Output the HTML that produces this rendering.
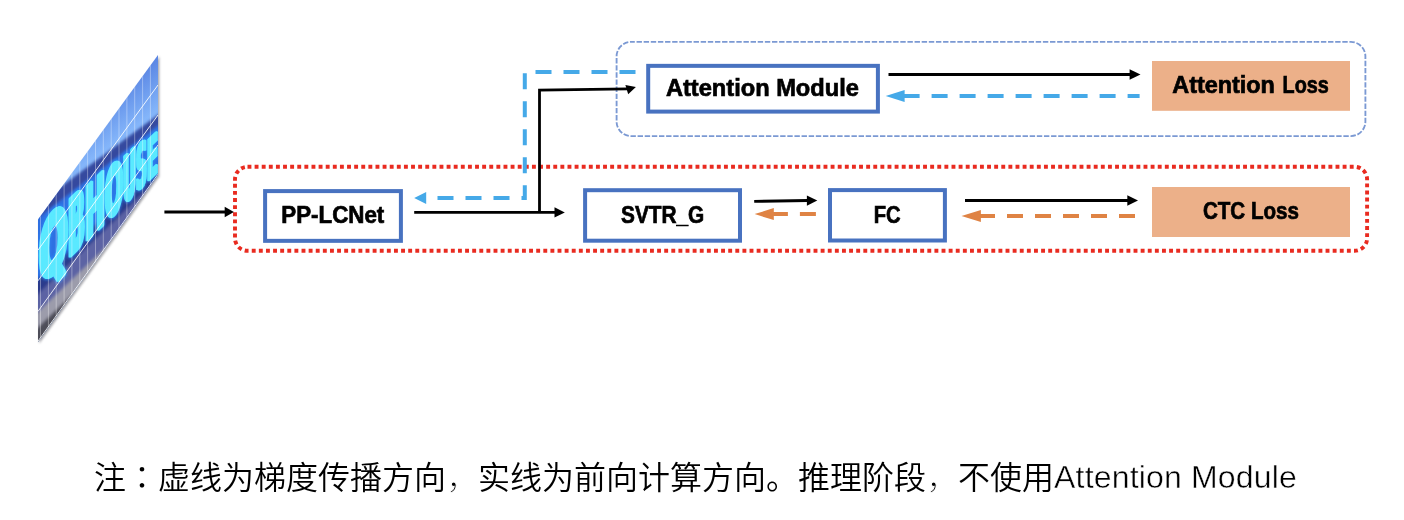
<!DOCTYPE html>
<html lang="zh-CN">
<head>
<meta charset="utf-8">
<title>PP-OCRv3 recognition training diagram</title>
<style>
  html, body { margin: 0; padding: 0; background: #ffffff; }
  body { width: 1404px; height: 520px; overflow: hidden; position: relative; }
  svg { position: absolute; left: 0; top: 0; display: block; will-change: transform; }
  .lbl { font-family: "Liberation Sans", "Noto Sans CJK SC", sans-serif; font-weight: 700; font-size: 23.7px; fill: #000; stroke: #000; stroke-width: 0.7; }
  .note { font-family: "Liberation Sans", "Noto Sans CJK SC", sans-serif; font-weight: 350; font-size: 32px; fill: #000; }
  .box { fill: #ffffff; stroke: #4872c0; stroke-width: 4; }
  .loss { fill: #ecb089; }
  .blk { stroke: #000; stroke-width: 2.8; fill: none; }
  .blu { stroke: #45a9e8; stroke-width: 4; fill: none; stroke-dasharray: 16 12; }
  .org { stroke: #df8344; stroke-width: 4; fill: none; stroke-dasharray: 16 12; }
</style>
</head>
<body>
<svg width="1404" height="520" viewBox="0 0 1404 520">
  <defs>
    <clipPath id="para"><polygon points="38,219.5 158,55 158,175 38,342"/></clipPath>
    <linearGradient id="sky" gradientUnits="userSpaceOnUse" x1="74" y1="102" x2="110" y2="150.3">
      <stop offset="0" stop-color="#4e76dc"/>
      <stop offset="0.5" stop-color="#6a98ec"/>
      <stop offset="1" stop-color="#88bafc"/>
    </linearGradient>
    <filter id="b1" x="-20%" y="-20%" width="140%" height="140%"><feGaussianBlur stdDeviation="1.1"/></filter>
    <filter id="b2" x="-20%" y="-20%" width="140%" height="140%"><feGaussianBlur stdDeviation="2.6"/></filter>
    <filter id="glow" x="-20%" y="-20%" width="140%" height="140%"><feMorphology operator="dilate" radius="1 1"/><feGaussianBlur stdDeviation="1.5"/></filter>
    <filter id="core" x="-20%" y="-20%" width="140%" height="140%">
      <feOffset in="SourceGraphic" dx="-0.7" dy="0" result="o1"/>
      <feOffset in="SourceGraphic" dx="0.7" dy="0" result="o2"/>
      <feOffset in="SourceGraphic" dx="-0.35" dy="0" result="o3"/>
      <feOffset in="SourceGraphic" dx="0.35" dy="0" result="o4"/>
      <feMerge result="m"><feMergeNode in="o1"/><feMergeNode in="o2"/><feMergeNode in="o3"/><feMergeNode in="o4"/><feMergeNode in="SourceGraphic"/></feMerge>
      <feGaussianBlur in="m" stdDeviation="0.6"/>
    </filter>
    <filter id="b3" x="-20%" y="-20%" width="140%" height="140%"><feGaussianBlur stdDeviation="1.6"/></filter>
  </defs>

  <!-- ===== input image (skewed scene-text photo) ===== -->
  <polygon points="38,219.5 158,55 158,175 38,342" transform="translate(1.3,1.6)" fill="#4a4a55" opacity="0.5" filter="url(#b1)"/>
  <g id="photo" clip-path="url(#para)">
    <rect x="30" y="50" width="135" height="300" fill="url(#sky)"/>
    <g filter="url(#b3)">
      <!-- dark band under sky -->
      <polygon points="30,209.5 165,109.6 165,124 30,232" fill="#36499f"/>
      <!-- sign background -->
      <polygon points="30,224 165,120.5 165,167.5 30,297" fill="#2f6fe2"/>
      <!-- below sign -->
      <polygon points="30,287 165,157.4 165,175 30,304.5" fill="#2b3a8c"/>
      <polygon points="30,302 165,172.4 165,192 30,321.6" fill="#5c63a4"/>
      <polygon points="30,320 165,190.4 165,207 30,336.6" fill="#9c9cab"/>
      <polygon points="30,335 165,205.4 165,260 30,370" fill="#4d4d58"/>
    </g>
    <g font-family="'DejaVu Sans', 'Liberation Sans', sans-serif" font-weight="700" stroke-linejoin="round">
      <title>QBHOUSE</title>
      <g filter="url(#glow)" fill="#2a8cf8" stroke="#2a8cf8"><use href="#qbword"/></g>
      <g filter="url(#core)" fill="#5ae9ff" stroke="#5ae9ff"><text id="qbword" transform="matrix(1,-0.96,0,1,39,285.7)"><tspan font-size="80" textLength="29" lengthAdjust="spacingAndGlyphs" stroke-width="5">Q</tspan><tspan font-size="77" textLength="17" lengthAdjust="spacingAndGlyphs" stroke-width="3.2">B</tspan><tspan font-size="72" textLength="20" lengthAdjust="spacingAndGlyphs" stroke-width="3.5">H</tspan><tspan font-size="67" textLength="18" lengthAdjust="spacingAndGlyphs" stroke-width="3.2">O</tspan><tspan font-size="64" textLength="13" lengthAdjust="spacingAndGlyphs" stroke-width="2.2">U</tspan><tspan font-size="61" textLength="11" lengthAdjust="spacingAndGlyphs" stroke-width="1.5">S</tspan><tspan font-size="56" textLength="11" lengthAdjust="spacingAndGlyphs" stroke-width="1.2">E</tspan></text></g>
    </g>
    <!-- grid overlay -->
    <g stroke="#ffffff" fill="none">
      <path stroke-width="0.8" stroke-opacity="0.45" d="M150.4,50V350M142.6,50V350M134.7,50V350M126.9,50V350M119.0,50V350M111.2,50V350M103.3,50V350M95.5,50V350M87.6,50V350M79.8,50V350M71.9,50V350M64.1,50V350M56.2,50V350M48.4,50V350M40.5,50V350"/>
      <path stroke-width="0.95" stroke-opacity="0.9" d="M38,250.1L158,85M38,280.8L158,115M38,311.4L158,145M38,341.2L158,174.2"/>
    </g>
  </g>

  <!-- ===== group outlines ===== -->
  <rect x="616.6" y="41.9" width="748.8" height="94.2" rx="14.5" ry="14.5" fill="none" stroke="#7b99d3" stroke-width="1.85" stroke-dasharray="5.4 1.729" stroke-dashoffset="1.7"/>
  <rect x="235" y="166.8" width="1132.1" height="84" rx="12.5" ry="12.5" fill="none" stroke="#e92b20" stroke-width="3.9" stroke-dasharray="3.9 3.2113"/>

  <!-- ===== boxes ===== -->
  <rect class="box" x="265.1" y="191.1" width="135.8" height="49.75"/>
  <rect class="box" x="585.1" y="190.2" width="154.9" height="50.5"/>
  <rect class="box" x="830" y="190.1" width="114.9" height="50.4"/>
  <rect class="box" x="648.2" y="65.85" width="229.7" height="45.75"/>
  <rect class="loss" x="1152" y="61" width="198" height="49.8"/>
  <rect class="loss" x="1152" y="187" width="198" height="50"/>

  <!-- ===== labels ===== -->
  <text class="lbl" x="281.3" y="222.8" textLength="103.0" lengthAdjust="spacingAndGlyphs">PP-LCNet</text>
  <text class="lbl" x="621.0" y="222.9" textLength="83.3" lengthAdjust="spacingAndGlyphs">SVTR_G</text>
  <text class="lbl" x="873.7" y="222.7" textLength="26.9" lengthAdjust="spacingAndGlyphs">FC</text>
  <text class="lbl" x="665.9" y="95.8" textLength="193.0" lengthAdjust="spacingAndGlyphs">Attention Module</text>
  <text class="lbl" y="92.6"><tspan x="1172.3" textLength="102.6" lengthAdjust="spacingAndGlyphs">Attention</tspan> <tspan x="1282.6" textLength="46.2" lengthAdjust="spacingAndGlyphs">Loss</tspan></text>
  <text class="lbl" x="1202.9" y="218.8" textLength="96.0" lengthAdjust="spacingAndGlyphs">CTC Loss</text>

  <!-- ===== forward (solid) arrows ===== -->
  <path class="blk" d="M164.4,212H227"/>
  <polygon points="233.9,212 224.7,206.8 224.7,217.2"/>

  <path class="blk" d="M414.2,212.4H556"/>
  <polygon points="564.8,212.4 554.5,207.2 554.5,217.6"/>

  <path class="blk" d="M539.5,212.4V90.2L628,88.9" stroke-linejoin="miter"/>
  <polygon points="635.9,86.9 625.4,85.1 628.2,94.3"/>

  <path class="blk" d="M754.2,201.4L808,200.5"/>
  <polygon points="817.3,200.4 806.9,195.4 806.9,205.8"/>

  <path class="blk" d="M965,200.5H1129"/>
  <polygon points="1138,200.5 1127.3,195.3 1127.3,205.7"/>

  <path class="blk" d="M888.5,74.5H1131"/>
  <polygon points="1140.5,74.5 1129.6,69.2 1129.6,79.8"/>

  <!-- ===== backward (dashed) arrows ===== -->
  <path class="blu" d="M635.5,72H524.8V198H427"/>
  <polygon points="414.2,198 426.2,192 426.2,204" fill="#45a9e8"/>

  <path class="blu" d="M1139.6,96H900" stroke-dashoffset="4"/>
  <polygon points="885.7,96 904.6,90 904.6,102" fill="#45a9e8"/>

  <path class="org" d="M815.9,214.1H770"/>
  <polygon points="754.6,214.1 773.8,208.1 773.8,220.1" fill="#df8344"/>

  <path class="org" d="M1135,216H978"/>
  <polygon points="961.5,216 980.9,210 980.9,222" fill="#df8344"/>

  <!-- ===== note ===== -->
  <text class="note" x="94" y="489">注<tspan lang="ja" style="font-family:'Noto Sans CJK JP','Noto Sans CJK SC',sans-serif">：</tspan>虚线为梯度传播方向<tspan stroke="#ffffff" stroke-width="1">，</tspan>实线为前向计算方向。推理阶段<tspan stroke="#ffffff" stroke-width="1">，</tspan>不使用<tspan dy="-1" letter-spacing="0.17" stroke="#ffffff" stroke-width="0.45">Attention Module</tspan></text>
</svg>
</body>
</html>
